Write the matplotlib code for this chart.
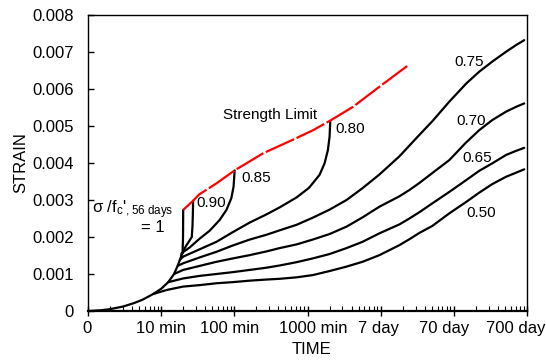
import numpy as np
import matplotlib
matplotlib.use("Agg")
import matplotlib.pyplot as plt
from matplotlib.ticker import FixedLocator, FixedFormatter, LogLocator, NullFormatter
from matplotlib.transforms import ScaledTranslation

plt.rcParams['font.family'] = ['Liberation Sans', 'DejaVu Sans']
plt.rcParams['mathtext.fontset'] = 'custom'
plt.rcParams['mathtext.rm'] = 'Liberation Sans'
plt.rcParams['mathtext.it'] = 'Liberation Sans'

# time in minutes, strain (-)
base_t = [1, 1.5, 2, 3, 4.2, 5.5, 7.8, 10, 12.5, 15, 16.8, 18, 18.8, 19.6]
base_e = [0, 0.00002, 0.00005, 0.00012, 0.00021, 0.0003, 0.00046, 0.0006, 0.00078,
          0.001, 0.00122, 0.00138, 0.00148, 0.00157]

t_050 = [7.8, 12, 20, 33.8, 57, 95, 162, 274, 416, 710, 1175, 2003, 3415, 5650, 9630,
         18030, 24700, 33800, 50900, 86900, 148000, 223000, 335000, 520000, 713000, 916000]
e_050 = [0.00046, 0.00057, 0.00066, 0.0007, 0.00075, 0.00078, 0.00082, 0.00085, 0.00087,
         0.00091, 0.00097, 0.00108, 0.0012, 0.00133, 0.00151,
         0.00178, 0.00194, 0.00211, 0.0023, 0.00264, 0.00295, 0.0032, 0.00343, 0.00363, 0.00374, 0.00383]

t_065 = [12.5, 20, 33.8, 57, 95, 162, 274, 416, 710, 1175, 2003, 3415, 5650, 9630,
         18030, 24700, 33800, 50900, 86900, 148000, 223000, 335000, 520000, 713000, 916000]
e_065 = [0.00078, 0.00088, 0.00095, 0.001, 0.00105, 0.00111, 0.00117, 0.00123,
         0.00132, 0.00142, 0.00154, 0.0017, 0.00187, 0.0021,
         0.00234, 0.0025, 0.00267, 0.00291, 0.00322, 0.00354, 0.00379, 0.00399, 0.00422, 0.00433, 0.00441]

t_070 = [15, 20, 33.8, 57, 95, 162, 274, 416, 710, 1175, 2003, 3415, 5650, 9630,
         18030, 24700, 33800, 50900, 86900, 148000, 223000, 335000, 520000, 713000, 916000]
e_070 = [0.001, 0.00111, 0.00122, 0.00133, 0.00142, 0.00151, 0.00161, 0.0017,
         0.0018, 0.00193, 0.00208, 0.00228, 0.00253, 0.00282,
         0.0031, 0.00327, 0.00346, 0.00373, 0.00408, 0.00456, 0.00489, 0.00516, 0.00539, 0.00552, 0.00561]

t_075 = [16.8, 20, 33.8, 57, 95, 162, 274, 416, 710, 1175, 2003, 3415, 5650, 9630,
         18030, 24700, 33800, 50900, 86900, 148000, 223000, 335000, 520000, 713000, 916000]
e_075 = [0.00122, 0.00129, 0.00145, 0.0016, 0.00177, 0.00193, 0.00206, 0.00218,
         0.00233, 0.00252, 0.00274, 0.003, 0.00332, 0.00369,
         0.00418, 0.00447, 0.00476, 0.00513, 0.00566, 0.00615, 0.00647, 0.00674, 0.00701, 0.00719, 0.00732]

t_080 = [18, 20, 33.8, 57, 95, 162, 274, 416, 710, 1050, 1462, 1711, 1900, 2003, 2046]
e_080 = [0.00138, 0.00147, 0.00167, 0.00187, 0.00213, 0.00239, 0.00261, 0.0028,
         0.00307, 0.00333, 0.00368, 0.00399, 0.00435, 0.00471, 0.00512]

t_085 = [18.8, 19.0, 24.6, 33.8, 46, 63, 78, 91, 97.6, 101]
e_085 = [0.00148, 0.00156, 0.00172, 0.00196, 0.00217, 0.00246, 0.00273, 0.00305, 0.00336, 0.0038]

t_090 = [19.6, 21, 22.2, 24, 26.2, 26.8, 27.1, 27.3]
e_090 = [0.00157, 0.0017, 0.00178, 0.00188, 0.002, 0.0023, 0.0026, 0.00298]

t_100 = [19.6, 19.9, 20]
e_100 = [0.00157, 0.002, 0.00273]

limit_t = [20, 27.3, 33, 57, 101, 246, 700, 1200, 2100, 4200, 9600, 24100]
limit_e = [0.00273, 0.00298, 0.00315, 0.00345, 0.0038, 0.00426, 0.00467, 0.00489, 0.00516,
           0.00552, 0.00606, 0.00665]

x_ticks = [1, 10, 100, 1000, 1e4, 1e5, 1e6]
x_labels = ["0", "10 min", "100 min", "1000 min", "7 day", "70 day", "700 day"]
x_label_shift = [-1, 0, -5, 6, -2, -10, -11]  # pixels, labels sit a bit off their ticks
y_ticks = [0, 0.001, 0.002, 0.003, 0.004, 0.005, 0.006, 0.007, 0.008]
y_labels = ["0", "0.001", "0.002", "0.003", "0.004", "0.005", "0.006", "0.007", "0.008"]

fig = plt.figure(figsize=(5.46, 3.6), dpi=100)
ax = fig.add_axes([88 / 546, 1 - 311 / 360, (527 - 88) / 546, (311 - 15) / 360])

lw = 1.6
ax.plot(base_t, base_e, color='black', lw=lw, solid_capstyle='round')
for t, e in [(t_050, e_050), (t_065, e_065), (t_070, e_070), (t_075, e_075),
             (t_080, e_080), (t_085, e_085), (t_090, e_090), (t_100, e_100)]:
    ax.plot(t, e, color='black', lw=lw, solid_capstyle='round', solid_joinstyle='round')

ax.plot(limit_t, limit_e, color='#ff0000', lw=1.6, linestyle=(0, (14, 1.2)))

ax.set_xscale('log')
ax.set_xlim(1, 1e6)
ax.set_ylim(0, 0.008)

ax.xaxis.set_major_locator(FixedLocator(x_ticks))
ax.xaxis.set_major_formatter(FixedFormatter(x_labels))
ax.xaxis.set_minor_locator(LogLocator(base=10, subs=np.arange(2, 10)))
ax.xaxis.set_minor_formatter(NullFormatter())
ax.yaxis.set_major_locator(FixedLocator(y_ticks))
ax.yaxis.set_major_formatter(FixedFormatter(y_labels))

ax.tick_params(axis='x', which='major', direction='inout', length=7, width=1, labelsize=12, pad=4)
ax.tick_params(axis='x', which='minor', direction='in', length=3.5, width=0.8)
ax.tick_params(axis='y', which='major', direction='in', length=4, width=1, labelsize=12, pad=10)

fig.canvas.draw()
for lab, dx in zip(ax.get_xticklabels(), x_label_shift):
    lab.set_transform(lab.get_transform() + ScaledTranslation(dx / 100, 0, fig.dpi_scale_trans))

for sp in ax.spines.values():
    sp.set_linewidth(1)
ax.spines['bottom'].set_linewidth(1.6)

ax.set_xlabel("TIME", fontsize=12)
ax.xaxis.set_label_coords(0.51, -0.105)
ax.set_ylabel("STRAIN", fontsize=12, labelpad=3)

fs = 11
ax.text(4.1, 0.00275, r"σ /f$_{\mathrm{c}}$'$_{\mathrm{,56\ days}}$", fontsize=12, ha='center', va='center')
ax.text(7.7, 0.00227, "= 1", fontsize=fs + 1, ha='center', va='center')
ax.text(30.7, 0.00292, "0.90", fontsize=fs, ha='left', va='center')
ax.text(126, 0.0036, "0.85", fontsize=fs, ha='left', va='center')
ax.text(2417, 0.00492, "0.80", fontsize=fs, ha='left', va='center')
ax.text(69.5, 0.00530, "Strength Limit", fontsize=fs, ha='left', va='center')
ax.text(160000, 0.00673, "0.75", fontsize=fs, ha='center', va='center')
ax.text(173000, 0.00514, "0.70", fontsize=fs, ha='center', va='center')
ax.text(206000, 0.00414, "0.65", fontsize=fs, ha='center', va='center')
ax.text(233000, 0.00265, "0.50", fontsize=fs, ha='center', va='center')

fig.savefig("out.png", dpi=100)
